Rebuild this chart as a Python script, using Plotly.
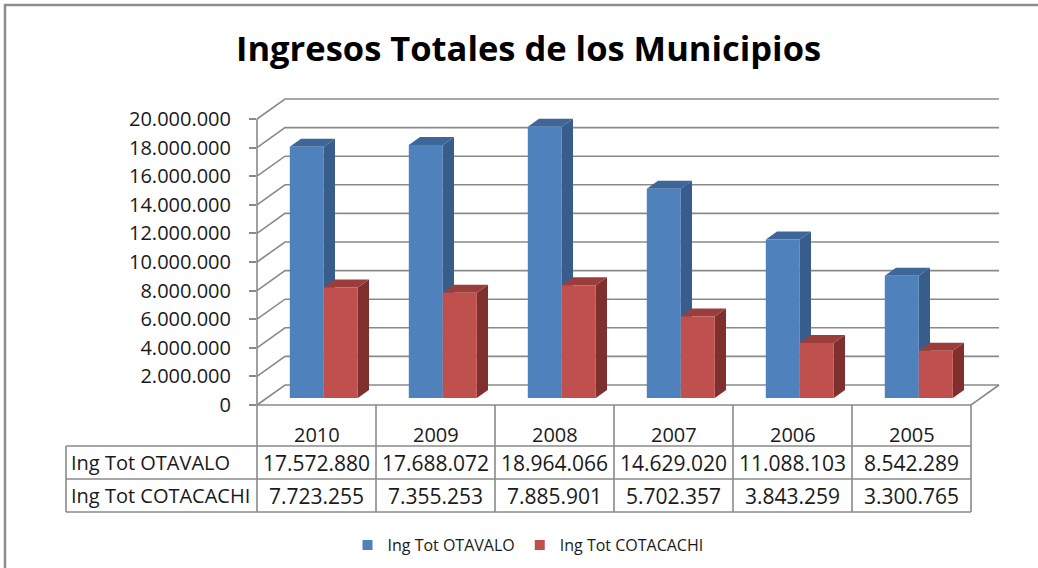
import plotly.graph_objects as go

# ---------------- data ----------------
years = ["2010", "2009", "2008", "2007", "2006", "2005"]
otavalo = [17572880, 17688072, 18964066, 14629020, 11088103, 8542289]
cotacachi = [7723255, 7355253, 7885901, 5702357, 3843259, 3300765]
series_names = ["Ing Tot OTAVALO", "Ing Tot COTACACHI"]
y_ticks = [0, 2000000, 4000000, 6000000, 8000000, 10000000,
           12000000, 14000000, 16000000, 18000000, 20000000]

# ---------------- geometry helpers ----------------
W, H = 1038, 568
PX = 119.0                 # pixels per category
PY = 286.0 / 20000000      # pixels per unit of value
X0_PX, Y0_PX = 257, 405    # front-left floor corner in pixels
DX = 28 / PX               # depth offset (x, data units)
DY = 20 / PY               # depth offset (y, data units)

xmin = -0.5 - X0_PX / PX
xmax = xmin + W / PX
ymin = -(H - Y0_PX) / PY
ymax = ymin + H / PY

def fmt(v):
    return f"{v:,}".replace(",", ".")

def px(x):
    return x / W

def py(y):
    return 1 - y / H

fig = go.Figure()
GRID = "#8a8a8a"
n = len(years)

# gridlines (left wall diagonal + back wall horizontal)
gx, gy = [], []
for v in y_ticks:
    gx += [-0.5, -0.5 + DX, n - 0.5 + DX, None]
    gy += [v, v + DY, v + DY, None]
fig.add_trace(go.Scatter(x=gx, y=gy, mode="lines", line=dict(color=GRID, width=1.6),
                         hoverinfo="skip", showlegend=False))
# front axis line and floor front/right edges
fig.add_trace(go.Scatter(x=[-0.5, -0.5, None, -0.5, n - 0.5, n - 0.5 + DX],
                         y=[y_ticks[-1], 0, None, 0, 0, DY],
                         mode="lines", line=dict(color=GRID, width=1.6),
                         hoverinfo="skip", showlegend=False))

# 3D columns
F0, F1 = 0.35, 0.75
BW = 34 / PX
colors = [dict(front="#4F81BD", side="#385D8A", top="#3E6698"),
          dict(front="#C0504D", side="#7F302E", top="#9B3E3B")]

def poly(xs, ys, color):
    fig.add_trace(go.Scatter(x=xs + [xs[0]], y=ys + [ys[0]], mode="lines", fill="toself",
                             fillcolor=color, line=dict(width=0, color=color),
                             hoverinfo="skip", showlegend=False))

for i in range(n):
    c = i - 2.5 / PX
    for s, vals in enumerate([otavalo, cotacachi]):
        h = vals[i]
        a = c - BW if s == 0 else c
        b = a + BW
        col = colors[s]
        # side
        poly([b + F0 * DX, b + F1 * DX, b + F1 * DX, b + F0 * DX],
             [F0 * DY, F1 * DY, h + F1 * DY, h + F0 * DY], col["side"])
        # top
        poly([a + F0 * DX, b + F0 * DX, b + F1 * DX, a + F1 * DX],
             [h + F0 * DY, h + F0 * DY, h + F1 * DY, h + F1 * DY], col["top"])
        # front
        poly([a + F0 * DX, b + F0 * DX, b + F0 * DX, a + F0 * DX],
             [F0 * DY, F0 * DY, h + F0 * DY, h + F0 * DY], col["front"])

# legend entries
for s in range(2):
    fig.add_trace(go.Scatter(x=[None], y=[None], mode="markers", name=series_names[s],
                             marker=dict(symbol="square", size=10, color=colors[s]["front"])))

FONT = "Open Sans"
TXT = "#1a1a1a"

# ---------------- data table ----------------
cols = [257 + k * 119 for k in range(n + 1)]
rows = [405, 446, 479, 512]
shapes = []
LC = "#8a8a8a"
for xpx in cols:
    shapes.append(dict(type="line", xref="paper", yref="paper", x0=px(xpx), x1=px(xpx),
                       y0=py(rows[0]), y1=py(rows[-1]), line=dict(color=LC, width=1.6)))
shapes.append(dict(type="line", xref="paper", yref="paper", x0=px(66), x1=px(66),
                   y0=py(rows[1]), y1=py(rows[-1]), line=dict(color=LC, width=1.6)))
for ypx in rows[1:]:
    shapes.append(dict(type="line", xref="paper", yref="paper", x0=px(66), x1=px(cols[-1]),
                       y0=py(ypx), y1=py(ypx), line=dict(color=LC, width=1.6)))
# chart border
shapes.append(dict(type="rect", xref="paper", yref="paper", x0=px(5), x1=px(W + 20),
                   y0=py(H + 20), y1=py(5), line=dict(color="#8c8c8c", width=2.5)))

def ann(xp, yp, text, size, xanchor="center", color=TXT):
    return dict(x=px(xp), y=py(yp), xref="paper", yref="paper", xanchor=xanchor,
                yanchor="middle", text=text, showarrow=False,
                font=dict(family=FONT, size=size, color=color))

annotations = []
for i in range(n):
    xc = (cols[i] + cols[i + 1]) / 2
    annotations.append(ann(xc, 434, years[i], 20))
    annotations.append(ann(xc, (rows[1] + rows[2]) / 2, fmt(otavalo[i]), 21))
    annotations.append(ann(xc, (rows[2] + rows[3]) / 2, fmt(cotacachi[i]), 21))
for r, name in enumerate(series_names):
    annotations.append(ann(69, (rows[r + 1] + rows[r + 2]) / 2, name, 20, xanchor="left"))
# title
annotations.append(ann(528, 47, "<b>Ingresos Totales de los Municipios</b>", 34.5, color="#000000"))

fig.update_layout(
    width=W, height=H,
    margin=dict(l=0, r=0, t=0, b=0),
    paper_bgcolor="white", plot_bgcolor="white",
    xaxis=dict(range=[xmin, xmax], visible=False, fixedrange=True),
    yaxis=dict(range=[ymin, ymax], anchor="free", position=256 / W, side="left",
               tickvals=y_ticks, ticktext=[fmt(v) for v in y_ticks],
               showgrid=False, zeroline=False, showline=False,
               ticks="outside", ticklen=7, tickcolor=GRID, tickwidth=1.6,
               ticklabelstandoff=14, fixedrange=True,
               tickfont=dict(family=FONT, size=20, color=TXT)),
    showlegend=True,
    legend=dict(orientation="h", x=px(528), xanchor="center", y=py(545), yanchor="middle",
                font=dict(family=FONT, size=16, color=TXT), bgcolor="rgba(0,0,0,0)",
                itemwidth=30),
    shapes=shapes, annotations=annotations,
)

fig.write_html("out.html", config={"displayModeBar": False},
               post_script="document.body.style.margin='0';document.body.style.overflow='hidden';")
